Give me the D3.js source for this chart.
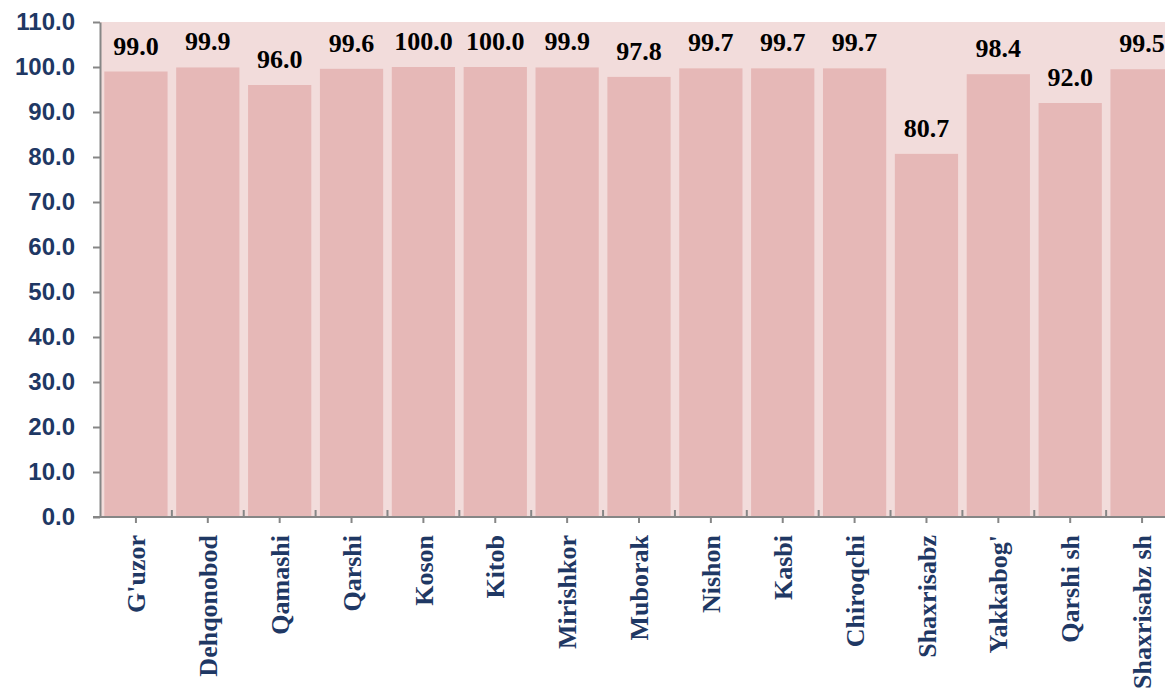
<!DOCTYPE html>
<html>
<head>
<meta charset="utf-8">
<script src="https://cdn.jsdelivr.net/npm/d3@7"></script>
<style>
  html, body { margin: 0; padding: 0; background: #fff; overflow: hidden; }
  svg { display: block; }
</style>
</head>
<body>
<svg id="chart" width="1165" height="688"></svg>
<script>
// data
const districts = ["G'uzor", "Dehqonobod", "Qamashi", "Qarshi", "Koson", "Kitob", "Mirishkor",
  "Muborak", "Nishon", "Kasbi", "Chiroqchi", "Shaxrisabz", "Yakkabog'", "Qarshi sh", "Shaxrisabz sh"];
const values = [99.0, 99.9, 96.0, 99.6, 100.0, 100.0, 99.9, 97.8, 99.7, 99.7, 99.7, 80.7, 98.4, 92.0, 99.5];
const yTicks = [0, 10, 20, 30, 40, 50, 60, 70, 80, 90, 100, 110];

const svg = d3.select("#chart");
const plotLeft = 100, plotTop = 22, plotBottom = 517, plotRight = 1178;
const blue = "#1f3864";
const axisGrey = "#868686";

let x = d3.scaleBand()
  .domain(districts)
  .range([plotLeft, plotRight])
  .paddingInner(0.12)
  .paddingOuter(0.06);

let y = d3.scaleLinear().domain([0, 110]).range([plotBottom, plotTop]);

// plot background
svg.append("rect")
  .attr("x", plotLeft).attr("y", plotTop)
  .attr("width", plotRight - plotLeft).attr("height", plotBottom - plotTop)
  .attr("fill", "#f2dcdb");

// bars
svg.append("g").attr("id", "bars")
  .selectAll("rect")
  .data(values)
  .enter().append("rect")
    .attr("x", (d, i) => x(districts[i]))
    .attr("y", d => y(d))
    .attr("width", x.bandwidth())
    .attr("height", d => y(0) - y(d))
    .attr("fill", "#e6b8b7");

// value labels
svg.append("g").attr("id", "labels")
  .selectAll("text")
  .data(values)
  .enter().append("text")
    .attr("x", (d, i) => x(districts[i]) + x.bandwidth() / 2)
    .attr("y", d => y(d) - 17)
    .attr("text-anchor", "middle")
    .style("font-family", "'Liberation Serif', 'Times New Roman', serif")
    .style("font-weight", "bold")
    .style("font-size", "26px")
    .attr("fill", "#000")
    .text(d => d.toFixed(1));

// y axis
let yAxis = svg.append("g")
  .attr("transform", `translate(${plotLeft},0)`)
  .call(d3.axisLeft(y).tickValues(yTicks).tickFormat(d3.format(".1f"))
    .tickSize(7).tickSizeOuter(0).tickPadding(18));
yAxis.select(".domain").attr("stroke", axisGrey).attr("stroke-width", 2);
yAxis.selectAll(".tick line").attr("stroke", axisGrey).attr("stroke-width", 2);
yAxis.selectAll(".tick text")
  .attr("fill", blue)
  .style("font-family", "'Liberation Sans', Arial, sans-serif")
  .style("font-weight", "bold")
  .style("font-size", "24px");

// x axis
let xAxis = svg.append("g")
  .attr("transform", `translate(0,${plotBottom})`)
  .call(d3.axisBottom(x).tickSize(6).tickSizeOuter(0));
xAxis.select(".domain").attr("d", `M${plotLeft - 7},0H${plotRight}`)
  .attr("stroke", axisGrey).attr("stroke-width", 2);
xAxis.selectAll(".tick line").attr("stroke", axisGrey).attr("stroke-width", 2);
xAxis.selectAll(".tick text")
  .attr("transform", "rotate(-90)")
  .attr("x", -18).attr("y", 0).attr("dy", "0.35em")
  .style("text-anchor", "end")
  .attr("fill", blue)
  .style("font-family", "'Liberation Serif', 'Times New Roman', serif")
  .style("font-weight", "bold")
  .style("font-size", "26px");

// small ticks between categories (pointing up)
xAxis.append("g").selectAll("line")
  .data(districts.slice(1))
  .enter().append("line")
    .attr("x1", d => x(d) - x.step() * x.paddingInner() / 2)
    .attr("x2", d => x(d) - x.step() * x.paddingInner() / 2)
    .attr("y1", 0).attr("y2", -7)
    .attr("stroke", axisGrey).attr("stroke-width", 2);
</script>
</body>
</html>
